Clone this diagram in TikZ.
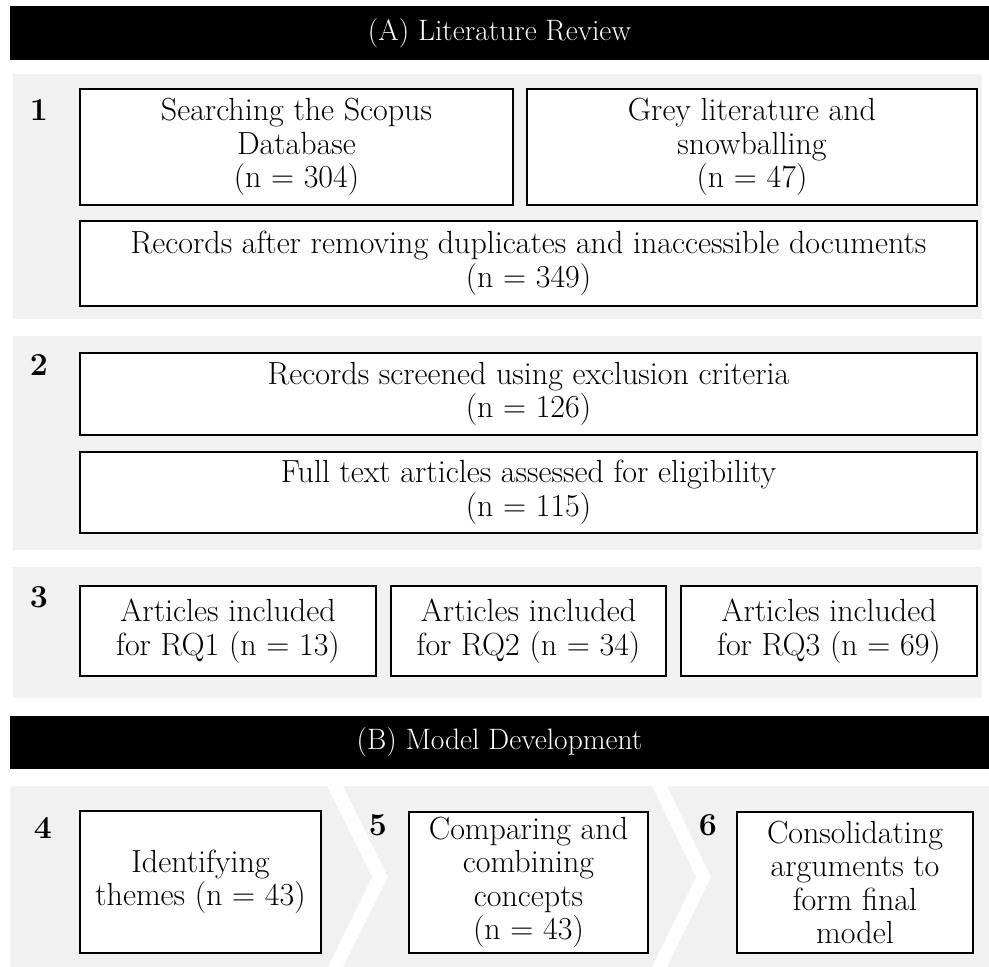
\documentclass[tikz,border=0pt]{standalone}
\usepackage{fontspec}
\definecolor{panelgray}{HTML}{F1F1F1}
\tikzset{
  panel/.style={fill=panelgray, draw=none},
  header/.style={fill=black, text=white, inner sep=0pt, minimum width=979, minimum height=54,
    font=\fontsize{29.5}{34}\selectfont},
  stepbox/.style={draw=black, line width=1.8pt, fill=white, align=center, inner sep=0pt,
    font=\fontsize{32}{33.5}\selectfont},
  stepnum/.style={inner sep=0pt, font=\fontsize{32}{34}\selectfont\bfseries},
}
\begin{document}
\begin{tikzpicture}[x=1pt,y=-1pt]
\useasboundingbox (0,0) rectangle (989,967);

% section headers
\node[header] (hdrA) at (499.5,33) {(A) Literature Review};
\node[header, minimum height=53] (hdrB) at (499.5,742.5) {(B) Model Development};

% grey stage panels
\fill[panel] (13,74) rectangle (982,319);
\fill[panel] (13,336) rectangle (982,550);
\fill[panel] (13,567) rectangle (982,698);

% chevron panels of the model development stages
\fill[panel] (10,786) -- (327,786) -- (372,877) -- (328,967) -- (10,967) -- cycle;
\fill[panel] (343,786) -- (652,786) -- (696,877) -- (652,967) -- (343,967) -- (388,877) -- cycle;
\fill[panel] (667,786) -- (989,786) -- (989,967) -- (667,967) -- (711,877) -- cycle;

% stage 1
\node[stepnum] (n1) at (39,110) {1};
\node[stepbox, minimum width=433, minimum height=116] (search) at (296.5,147)
  {Searching the Scopus\\Database\\(n = 304)};
\node[stepbox, minimum width=450, minimum height=116] (grey) at (752,147)
  {Grey literature and\\snowballing\\(n = 47)};
\node[stepbox, minimum width=897, minimum height=85] (dedup) at (528.5,263.5)
  {Records after removing duplicates and inaccessible documents\\(n = 349)};

% stage 2
\node[stepnum] (n2) at (39,365) {2};
\node[stepbox, minimum width=897, minimum height=82] (screen) at (528.5,394)
  {Records screened using exclusion criteria\\(n = 126)};
\node[stepbox, minimum width=897, minimum height=81] (full) at (528.5,492.5)
  {Full text articles assessed for eligibility\\(n = 115)};

% stage 3
\node[stepnum] (n3) at (39,597) {3};
\node[stepbox, minimum width=296, minimum height=90] (rq1) at (228,631)
  {Articles included\\for RQ1 (n = 13)};
\node[stepbox, minimum width=275, minimum height=90] (rq2) at (528.5,631)
  {Articles included\\for RQ2 (n = 34)};
\node[stepbox, minimum width=296, minimum height=90] (rq3) at (829,631)
  {Articles included\\for RQ3 (n = 69)};

% stages 4 to 6
\node[stepnum] (n4) at (43,828) {4};
\node[stepbox, minimum width=241, minimum height=142] (themes) at (200.5,882)
  {Identifying\\themes (n = 43)};
\node[stepnum] (n5) at (378,825) {5};
\node[stepbox, minimum width=239, minimum height=141] (concepts) at (528.5,882.5)
  {Comparing and\\combining\\concepts\\(n = 43)};
\node[stepnum] (n6) at (708,825) {6};
\node[stepbox, minimum width=236, minimum height=141] (model) at (855,882.5)
  {Consolidating\\arguments to\\form final\\model};
\end{tikzpicture}
\end{document}
